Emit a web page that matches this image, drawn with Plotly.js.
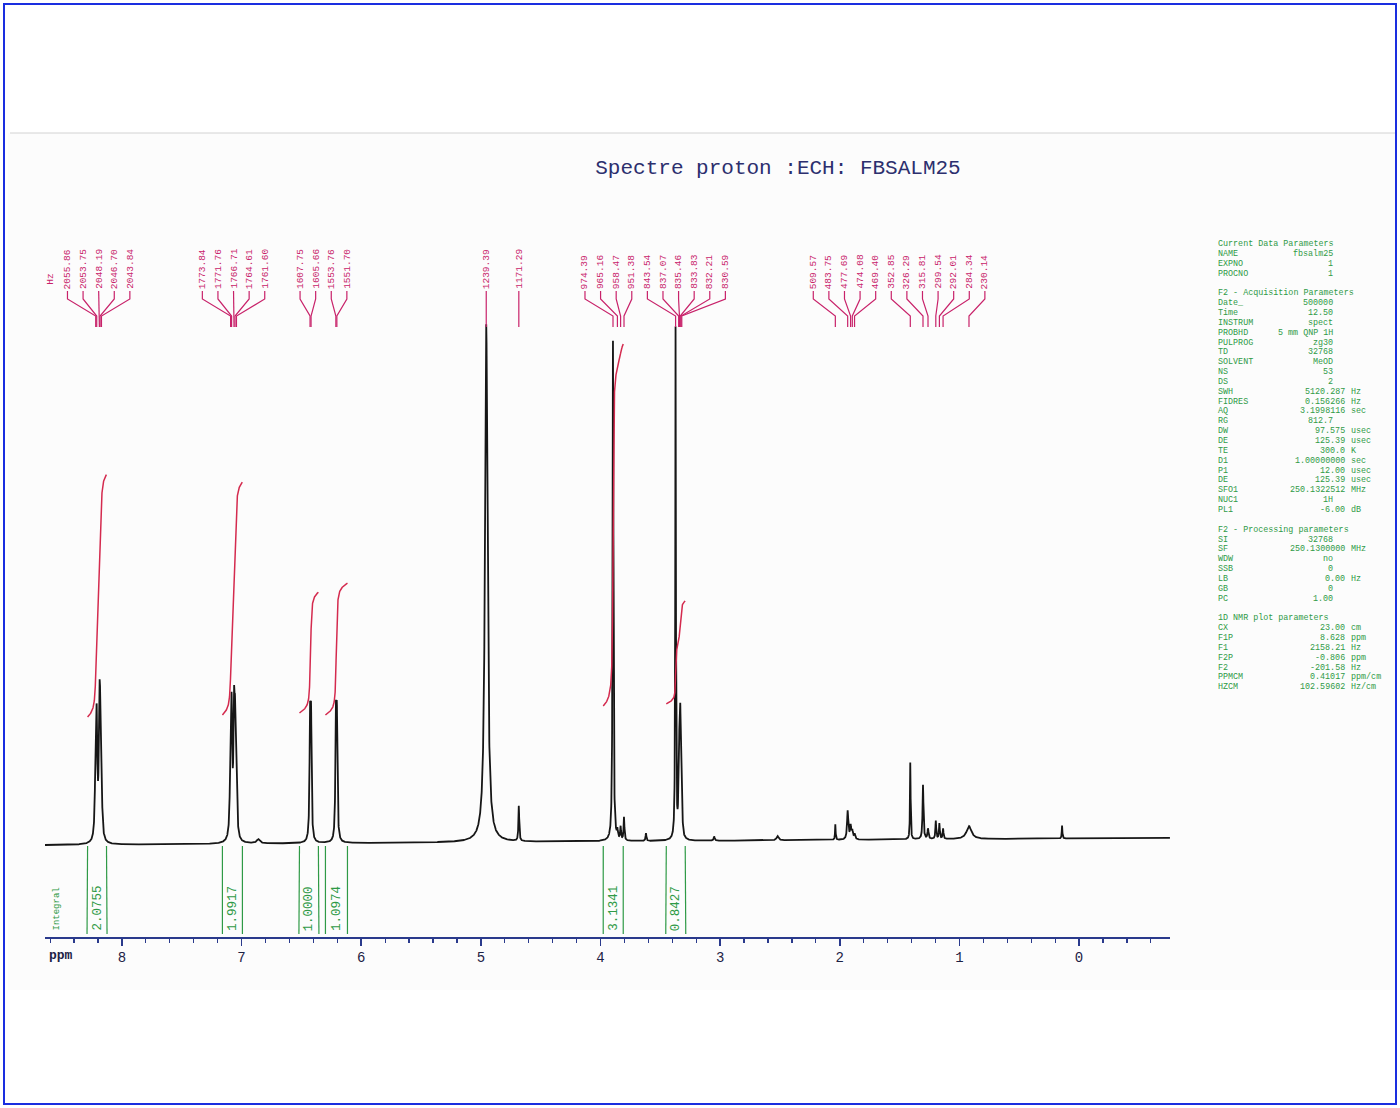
<!DOCTYPE html>
<html><head><meta charset="utf-8">
<script src="https://cdn.plot.ly/plotly-3.0.1.min.js"></script>
<style>html,body{margin:0;padding:0;background:#fff}#chart{width:1400px;height:1108px}</style>
</head><body><div id="chart"></div>
<script>
// ================= DATA =================
const chartTitle = "Spectre proton :ECH: FBSALM25";
const spectrometerMHz = 250.13;
// labelled peak positions (Hz)
const peakHz = [2055.86, 2053.75, 2048.19, 2046.70, 2043.84,
  1773.84, 1771.76, 1766.71, 1764.61, 1761.60,
  1607.75, 1605.66, 1553.76, 1551.70,
  1239.39, 1171.29,
  974.39, 965.16, 958.47, 951.38,
  843.54, 837.07, 835.46, 833.83, 832.21, 830.59,
  509.57, 483.75, 477.69, 474.08, 469.40,
  352.85, 326.29, 315.81, 299.54, 292.01, 284.34, 230.14];
// relative intensity of each labelled line (tallest = 100)
const peakHeight = [17, 19, 19, 17, 10,
  16, 21, 21, 18, 10,
  21.5, 21.5, 21.5, 21.5,
  100, 6.8,
  97, 1.5, 2.5, 4.5,
  99, 8, 14, 17, 14, 8,
  3, 5.5, 2.5, 1.5, 1,
  15, 10.5, 2, 3.5, 3, 2, 2.5];
// line widths (ppm, full width at half height)
const peakWidth = [0.012, 0.012, 0.012, 0.012, 0.012,
  0.012, 0.012, 0.012, 0.012, 0.012,
  0.01, 0.01, 0.01, 0.01,
  0.025, 0.008,
  0.008, 0.008, 0.008, 0.008,
  0.006, 0.008, 0.008, 0.008, 0.008, 0.008,
  0.006, 0.012, 0.012, 0.012, 0.012,
  0.006, 0.009, 0.01, 0.008, 0.008, 0.008, 0.05];
// small unlabelled signals
const minorPpm = [6.86, 3.62, 3.05, 2.52, 0.142];
const minorHeight = [0.8, 1.5, 0.8, 0.8, 2.5];
const minorWidth = [0.03, 0.008, 0.01, 0.02, 0.006];
const baselineEnds = [-0.4, 1.0];          // baseline level at left / right end
// integrals
const integralFrom = [8.287, 7.160, 6.516, 6.299, 3.977, 3.450];
const integralTo   = [8.129, 6.993, 6.358, 6.115, 3.810, 3.292];
const integralValue = [2.0755, 1.9917, 1.0000, 1.0974, 3.1341, 0.8427];
// axis
const tickVals = [8, 7, 6, 5, 4, 3, 2, 1, 0];
const tickText = ["8", "7", "6", "5", "4", "3", "2", "1", "0"];
const axisRange = [8.643, -0.760];
// parameter panel
const paramName = ["Current Data Parameters","NAME","EXPNO","PROCNO","",
 "F2 - Acquisition Parameters","Date_","Time","INSTRUM","PROBHD","PULPROG","TD","SOLVENT","NS","DS","SWH","FIDRES","AQ","RG","DW","DE","TE","D1","P1","DE","SFO1","NUC1","PL1","",
 "F2 - Processing parameters","SI","SF","WDW","SSB","LB","GB","PC","",
 "1D NMR plot parameters","CX","F1P","F1","F2P","F2","PPMCM","HZCM"];
const paramValue = ["","fbsalm25","1","1","",
 "","500000","12.50","spect","5 mm QNP 1H","zg30","32768","MeOD","53","2","5120.287","0.156266","3.1998116","812.7","97.575","125.39","300.0","1.00000000","12.00","125.39","250.1322512","1H","-6.00","",
 "","32768","250.1300000","no","0","0.00","0","1.00","",
 "","23.00","8.628","2158.21","-0.806","-201.58","0.41017","102.59602"];
const paramUnit = ["","","","","",
 "","","","","","","","","","","Hz","Hz","sec","","usec","usec","K","sec","usec","usec","MHz","","dB","",
 "","","MHz","","","Hz","","","",
 "","cm","ppm","Hz","ppm","Hz","ppm/cm","Hz/cm"];

// ================= LAYOUT GEOMETRY =================
const L = 45, R = 1170, T = 230, B = 937, BASE_PX = 843, PXU = 5.18;
const yLo = -(B - BASE_PX) / PXU, yHi = (BASE_PX - T) / PXU;
const pxPerPpm = (R - L) / (axisRange[0] - axisRange[1]);
const pyToY = py => (BASE_PX - py) / PXU;
const pxToPaperX = px => (px - L) / (R - L);
const pyToPaperY = py => (B - py) / (B - T);
const pxToPpm = px => axisRange[0] - (px - L) / pxPerPpm;

const RED = "#c8226a", INTRED = "#d42a4e", GREEN = "#2f9a46", NAVY = "#1d2245", AXBLUE = "#2a3a8c";
const MONO = "Liberation Mono, DejaVu Sans Mono, monospace";

// ================= SPECTRUM =================
const peakPpm = peakHz.map(h => h / spectrometerMHz);
const allPos = peakPpm.concat(minorPpm);
const allH = peakHeight.concat(minorHeight);
const allW = peakWidth.concat(minorWidth);
function lines(x) {
  let s = 0;
  for (let i = 0; i < allPos.length; i++) {
    const u = (x - allPos[i]) / (allW[i] / 2);
    s += allH[i] / (1 + u * u);
  }
  return s;
}
const sx = [], sy = [];
const step = 0.0008;
for (let x = axisRange[0]; x >= axisRange[1]; x -= step) {
  const t = (axisRange[0] - x) / (axisRange[0] - axisRange[1]);
  sx.push(x);
  sy.push(lines(x) + baselineEnds[0] + (baselineEnds[1] - baselineEnds[0]) * t);
}
const traces = [{
  type: "scatter", mode: "lines", x: sx, y: sy,
  line: { color: "#161616", width: 1.8 }, hoverinfo: "skip", showlegend: false
}];

// ================= INTEGRAL CURVES =================
const integralBottomPx = [717, 715, 713, 715, 706, 704];
const kUnits = 113 / PXU, driftUnits = 1.5;
integralFrom.forEach((a, i) => {
  const b = integralTo[i];
  const xs = [], cum = [];
  let acc = 0;
  for (let x = a; x >= b; x -= 0.0004) {
    acc += lines(x);
    xs.push(x); cum.push(acc);
  }
  const tot = cum[cum.length - 1];
  const y0 = pyToY(integralBottomPx[i]);
  const ys = cum.map((c, j) => y0 + integralValue[i] * kUnits * c / tot + driftUnits * j / (cum.length - 1));
  traces.push({ type: "scatter", mode: "lines", x: xs, y: ys,
    line: { color: INTRED, width: 1.5 }, hoverinfo: "skip", showlegend: false });
});

// ================= PEAK LABEL FANS =================
const d = 15.6 / pxPerPpm;
let clusters = peakPpm.map((p, i) => ({ idx: [i] }));
const center = c => c.idx.reduce((s, i) => s + peakPpm[i], 0) / c.idx.length;
let changed = true;
while (changed) {
  changed = false;
  for (let k = 0; k < clusters.length - 1; k++) {
    const a = clusters[k], b = clusters[k + 1];
    const aRight = center(a) - (a.idx.length - 1) / 2 * d;
    const bLeft = center(b) + (b.idx.length - 1) / 2 * d;
    if (aRight - bLeft < d - 1e-9) {
      clusters.splice(k, 2, { idx: a.idx.concat(b.idx) });
      changed = true; break;
    }
  }
}
const labelPpm = [];
clusters.forEach(c => {
  const m = center(c), n = c.idx.length;
  c.idx.forEach((i, j) => { labelPpm[i] = m + ((n - 1) / 2 - j) * d; });
});
const fx = [], fy = [];
peakPpm.forEach((p, i) => {
  fx.push(labelPpm[i], labelPpm[i], p, p, null);
  fy.push(pyToY(291), pyToY(299), pyToY(316), pyToY(327), null);
});
traces.push({ type: "scatter", mode: "lines", x: fx, y: fy,
  line: { color: RED, width: 1.2 }, hoverinfo: "skip", showlegend: false });

// ================= INTEGRAL REGION MARKERS =================
const gx = [], gy = [];
integralFrom.forEach((a, i) => {
  const b = integralTo[i], c = (a + b) / 2;
  const hw = Math.max((a - b) / 2, 10 / pxPerPpm);
  gx.push(a, a, c + hw, c + hw, null, b, b, c - hw, c - hw, null);
  gy.push(pyToY(846), pyToY(862), pyToY(878), pyToY(934), null,
          pyToY(846), pyToY(862), pyToY(878), pyToY(934), null);
});
traces.push({ type: "scatter", mode: "lines", x: gx, y: gy,
  line: { color: GREEN, width: 1.2 }, hoverinfo: "skip", showlegend: false });

// ================= ANNOTATIONS =================
const ann = [];
peakHz.forEach((h, i) => ann.push({
  x: labelPpm[i], y: pyToY(290), xref: "x", yref: "y", text: h.toFixed(2),
  textangle: -90, xanchor: "center", yanchor: "bottom", showarrow: false,
  font: { family: MONO, size: 9.5, color: RED }, borderpad: 0
}));
ann.push({ x: labelPpm[0] + d * 1.1, y: pyToY(286), xref: "x", yref: "y", text: "Hz",
  textangle: -90, xanchor: "center", yanchor: "bottom", showarrow: false,
  font: { family: MONO, size: 9.5, color: RED }, borderpad: 0 });
integralValue.forEach((v, i) => ann.push({
  x: (integralFrom[i] + integralTo[i]) / 2, y: pyToY(932), xref: "x", yref: "y",
  text: v.toFixed(4), textangle: -90, xanchor: "center", yanchor: "bottom", showarrow: false,
  font: { family: MONO, size: 12.5, color: GREEN }, borderpad: 0
}));
ann.push({ x: pxToPpm(56), y: pyToY(932), xref: "x", yref: "y", text: "Integral",
  textangle: -90, xanchor: "center", yanchor: "bottom", showarrow: false,
  font: { family: MONO, size: 9, color: GREEN }, borderpad: 0 });
ann.push({ x: pxToPaperX(47), y: pyToPaperY(955), xref: "paper", yref: "paper", text: "<b>ppm</b>",
  xanchor: "left", yanchor: "middle", showarrow: false, font: { family: MONO, size: 13, color: NAVY } });

paramName.forEach((nm, i) => {
  const py = 244 + i * 9.85;
  if (!nm) return;
  ann.push({ x: pxToPaperX(1217), y: pyToPaperY(py), xref: "paper", yref: "paper", text: nm,
    xanchor: "left", yanchor: "middle", showarrow: false, font: { family: MONO, size: 8.4, color: GREEN }, borderpad: 0 });
  if (paramValue[i]) ann.push({ x: pxToPaperX(paramUnit[i] ? 1346 : 1334), y: pyToPaperY(py), xref: "paper", yref: "paper",
    text: paramValue[i], xanchor: "right", yanchor: "middle", showarrow: false,
    font: { family: MONO, size: 8.4, color: GREEN }, borderpad: 0 });
  if (paramUnit[i]) ann.push({ x: pxToPaperX(1350), y: pyToPaperY(py), xref: "paper", yref: "paper",
    text: paramUnit[i], xanchor: "left", yanchor: "middle", showarrow: false,
    font: { family: MONO, size: 8.4, color: GREEN }, borderpad: 0 });
});

// ================= SHAPES (page decoration) =================
const shapes = [
  { type: "rect", xref: "paper", yref: "paper", x0: pxToPaperX(8), x1: pxToPaperX(1396),
    y0: pyToPaperY(133), y1: pyToPaperY(990), fillcolor: "#fcfcfc", line: { width: 0 }, layer: "below" },
  { type: "line", xref: "paper", yref: "paper", x0: pxToPaperX(10), x1: pxToPaperX(1395),
    y0: pyToPaperY(133), y1: pyToPaperY(133), line: { color: "#d2d2d2", width: 1 }, layer: "below" },
  { type: "rect", xref: "paper", yref: "paper", x0: pxToPaperX(4), x1: pxToPaperX(1396),
    y0: pyToPaperY(4), y1: pyToPaperY(1104), line: { color: "#1a2ee0", width: 2 }, fillcolor: "rgba(0,0,0,0)" }
];

const layout = {
  width: 1400, height: 1108,
  margin: { l: L, r: 1400 - R, t: T, b: 1108 - B, pad: 0 },
  paper_bgcolor: "#ffffff", plot_bgcolor: "rgba(0,0,0,0)",
  showlegend: false,
  title: { text: chartTitle, font: { family: MONO, size: 21, color: "#2c2f6e" },
    xref: "container", yref: "container", x: 778 / 1400, y: 1 - 167 / 1108, xanchor: "center", yanchor: "middle" },
  xaxis: {
    range: axisRange, showgrid: false, zeroline: false, showline: true,
    linecolor: AXBLUE, linewidth: 1.5, ticks: "outside", ticklen: 7, tickwidth: 1.5, tickcolor: AXBLUE,
    tickmode: "array", tickvals: tickVals, ticktext: tickText,
    tickfont: { family: MONO, size: 14, color: NAVY },
    minor: { tickmode: "linear", tick0: 0, dtick: 0.2, ticks: "outside", ticklen: 4, tickcolor: AXBLUE, tickwidth: 1.2, showgrid: false },
    fixedrange: true
  },
  yaxis: { range: [yLo, yHi], visible: false, fixedrange: true },
  annotations: ann, shapes: shapes
};
Plotly.newPlot("chart", traces, layout, { displayModeBar: false, staticPlot: true });
</script></body></html>
